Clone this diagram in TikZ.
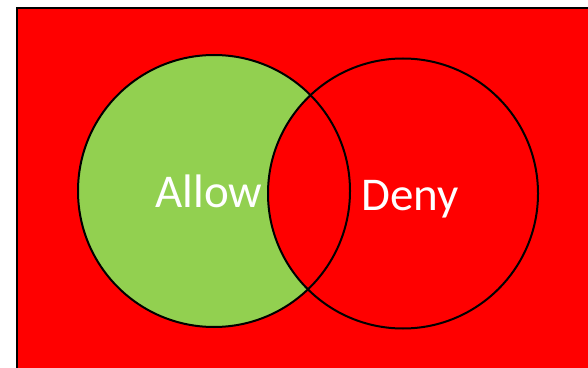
\documentclass[tikz,border=0pt]{standalone}
\usepackage{fontspec}
\setmainfont{Carlito}
\definecolor{allowgreen}{HTML}{92D050}
\definecolor{denyred}{HTML}{FF0000}
\begin{document}
\begin{tikzpicture}[x=1pt,y=1pt,
  outline/.style={draw=black,line width=2pt},
  lbl/.style={text=white,font=\fontsize{47}{50}\selectfont,anchor=base}]
\useasboundingbox (0,0) rectangle (588,367);
\clip (0,0) rectangle (588,367);
\fill[white] (0,0) rectangle (588,367);
\draw[outline,fill=denyred,line width=2.5pt] (17,-20) rectangle (620,359);
\coordinate (cl) at (214,176);
\coordinate (cr) at (403,173.5);
\begin{scope}
  \clip (cl) circle (136);
  \fill[allowgreen] (cl) circle (136);
  \fill[denyred] (cr) circle (135);
\end{scope}
\draw[outline] (cl) circle (136);
\draw[outline] (cr) circle (135);
\node[lbl] (allow) at (209,160) {Allow};
\node[lbl] (deny) at (410,157) {Deny};
\end{tikzpicture}
\end{document}
